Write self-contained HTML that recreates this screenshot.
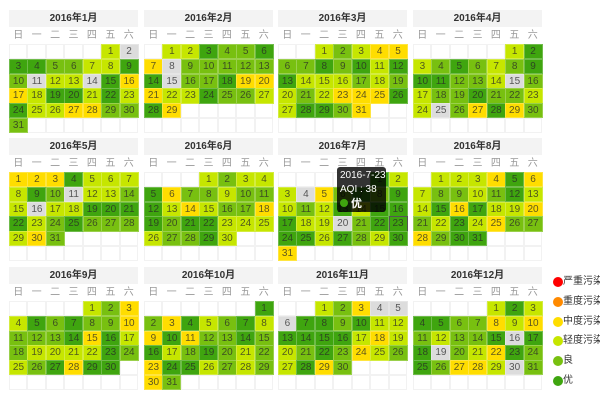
<!DOCTYPE html>
<html><head><meta charset="utf-8">
<style>
html,body{margin:0;padding:0;background:#fff;width:600px;height:400px;overflow:hidden;}
body{position:relative;font-family:"Liberation Sans","Noto Sans CJK SC",sans-serif;}
.title{position:absolute;background:#f3f3f3;color:#333;font-size:10px;font-weight:bold;text-align:center;line-height:17px;height:17px;}
.wd{position:absolute;color:#999;font-size:10px;text-align:center;line-height:17px;height:17px;}
.empty{position:absolute;box-sizing:border-box;border:1px solid #f2f2f2;}
.cell{position:absolute;box-sizing:border-box;border:1px solid rgba(255,255,255,0.25);color:rgba(40,40,40,0.75);font-size:10px;text-align:center;}
.leg{position:absolute;font-size:10px;color:#333;line-height:12px;white-space:nowrap;}
.leg i{position:absolute;left:-10px;top:1px;width:10px;height:10px;border-radius:50%;}
#tip{position:absolute;left:337px;top:167px;width:49px;height:45px;background:rgba(0,0,0,0.8);border-radius:3px;color:#fff;font-size:10px;line-height:14px;padding:2px 0 0 3px;box-sizing:border-box;white-space:nowrap;}
</style></head><body>
<div id="root"></div>
<script>
const jan=["L","X","G","G","M","M","L","L","G","M","X","L","L","X","G","Y","Y","L","G","G","L","G","L","G","L","L","Y","Y","M","M","M"];
const feb=["L","L","G","M","M","G","Y","X","M","M","M","M","M","G","X","M","M","G","Y","Y","Y","L","L","G","M","M","L","G","Y"];
const mar=["L","M","L","Y","Y","M","M","G","M","G","L","G","G","L","L","L","M","L","M","L","M","L","Y","Y","Y","G","L","G","G","M","Y"];
const apr=["L","G","L","M","G","M","L","M","G","G","G","M","M","L","X","M","L","M","M","G","M","M","L","L","X","M","Y","G","Y","M"];
const may=["Y","Y","Y","G","L","L","L","L","G","M","X","L","L","M","L","X","L","L","G","G","G","G","L","M","G","M","M","M","L","Y","M"];
const jun=["L","M","L","L","G","Y","M","M","L","M","M","G","L","Y","L","M","M","Y","G","M","G","G","L","L","L","L","M","M","G","L"];
const jul=["G","L","L","X","Y","M","G","M","G","L","M","L","G","L","G","G","G","L","L","X","M","G","G","G","G","L","G","M","L","G","Y"];
const aug=["L","L","L","Y","G","Y","L","M","M","L","M","G","L","L","G","Y","G","L","L","Y","M","L","G","L","Y","M","M","Y","M","G","G"];
const sep=["L","M","Y","L","G","M","G","M","M","Y","M","M","M","G","Y","G","L","M","L","L","L","L","G","M","L","M","G","Y","G","G"];
const oct=["G","M","Y","G","L","M","G","L","Y","G","Y","M","M","G","M","G","L","M","G","M","L","M","Y","G","G","L","M","L","M","Y","M"];
const nov=["L","M","Y","X","X","X","G","G","M","G","L","L","G","G","G","G","L","Y","L","L","M","G","M","Y","L","M","L","G","Y","M"];
const dec=["L","G","L","G","G","M","M","Y","L","Y","M","L","M","M","G","X","G","G","X","M","L","Y","G","M","G","M","Y","Y","L","X","M"];
const months=[jan,feb,mar,apr,may,jun,jul,aug,sep,oct,nov,dec];
const weekdays=["日","一","二","三","四","五","六"];
const legendLabels=["严重污染","重度污染","中度污染","轻度污染","良","优"];
const legendColors=["#ff0000","#ff8a00","#ffdd00","#c6e600","#78c010","#3fa50f"];
const COL={G:"#3fa50f",M:"#78c010",L:"#c6e600",Y:"#ffdd00",X:"#dcdcdc"};
const root=document.getElementById('root');
const X0=[9,144,278,413], Y0=[10,138,267];
const CW=18.43, CH=14.8, W=129;
function mk(cls,css,txt){const d=document.createElement('div');d.className=cls;Object.assign(d.style,css);if(txt!==undefined)d.textContent=txt;root.appendChild(d);return d;}
months.forEach((vals,m)=>{
  const x=X0[m%4], y=Y0[Math.floor(m/4)];
  const t=mk('title',{left:x+'px',top:y+'px',width:W+'px'},'2016年'+(m+1)+'月');
  
  
  weekdays.forEach((w,i)=>{const d=mk('wd',{left:(x+i*CW)+'px',top:(y+17)+'px',width:CW+'px'},w);
    
    });
  const cy=y+34;
  for(let r=0;r<6;r++)for(let c=0;c<7;c++){const e=mk('empty',{left:(x+c*CW)+'px',top:(cy+r*CH)+'px',width:CW+'px',height:CH+'px'});
    
    }
  const start=new Date(2016,m,1).getDay();
  vals.forEach((v,i)=>{
    const p=start+i, c=p%7, r=Math.floor(p/7);
    const d=mk('cell',{left:(x+c*CW)+'px',top:(cy+r*CH)+'px',width:(CW+0.5)+'px',height:(CH+0.5)+'px',lineHeight:CH+'px',background:COL[v]},String(i+1));
    
    
    if(m===6&&i===22){d.style.border='1px solid #555';}
  });
});
legendLabels.forEach((l,i)=>{
  const d=mk('leg',{left:'563px',top:(276+i*19.8)+'px'},l);
  
  
  const b=document.createElement('i');b.style.background=legendColors[i];d.appendChild(b);
});
</script>
<div id="tip">2016-7-23<br>AQI : 38<br><span style="display:inline-block;width:8px;height:8px;border-radius:50%;background:#3fa50f;margin-right:3px;"></span><b style="font-size:11px">优</b></div>
</body></html>
